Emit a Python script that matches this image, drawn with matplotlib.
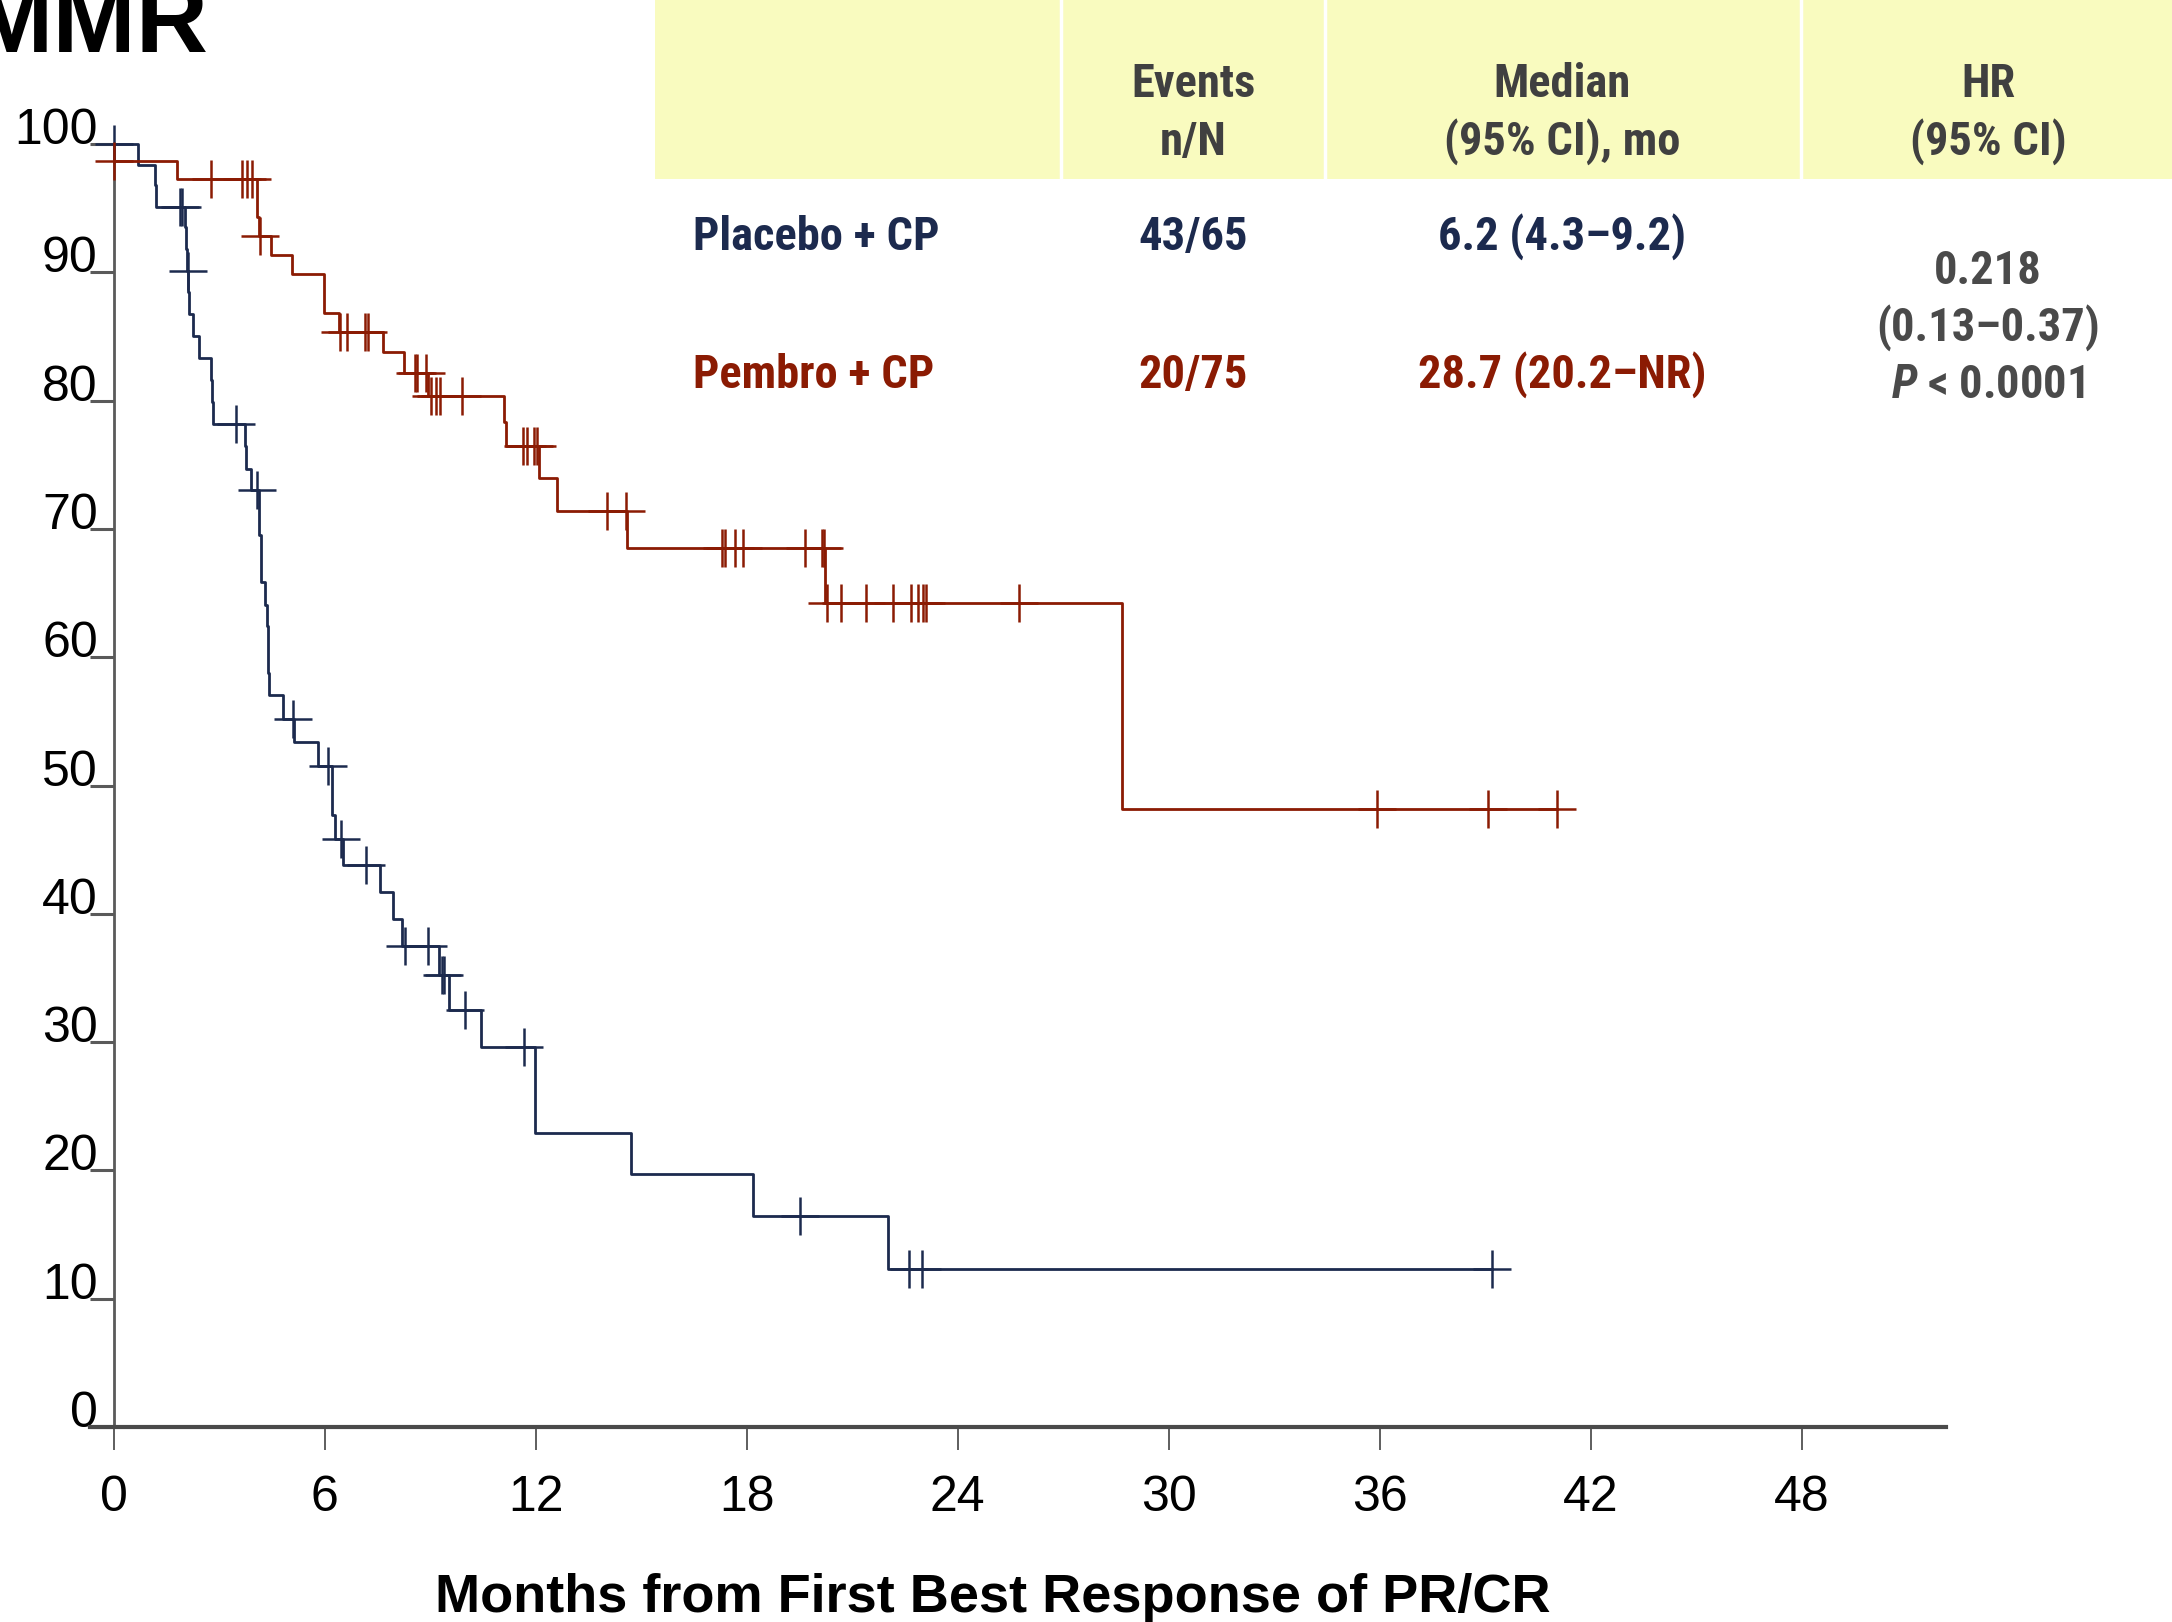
import numpy as np
import matplotlib
matplotlib.use("Agg")
import matplotlib.pyplot as plt
from matplotlib import font_manager

# Dados (tempo em meses, sobrevida em %)
# Placebo + CP: degraus da curva
placebo_t = [0, 0.70, 1.18, 1.22, 2.04, 2.07, 2.09, 2.12, 2.15, 2.25, 2.43, 2.76, 2.81, 2.84,
             3.74, 3.76, 3.90, 4.14, 4.18, 4.30, 4.35, 4.40, 4.43, 4.81, 5.14, 5.82,
             6.20, 6.29, 6.53, 7.57, 7.95, 8.20, 9.26, 9.55, 10.45, 11.98, 14.72, 18.19, 22.01]
placebo_s = [100, 98.4, 96.8, 95.1, 93.5, 91.8, 90.1, 88.5, 86.75, 85.0, 83.35, 81.6, 79.9, 78.2,
             76.5, 74.7, 73.0, 69.5, 65.9, 64.1, 62.4, 58.75, 57.05, 55.2, 53.4, 51.5,
             47.7, 45.8, 43.8, 41.7, 39.6, 37.5, 35.2, 32.5, 29.6, 22.95, 19.7, 16.45, 12.3]
placebo_cens = [0, 1.88, 1.94, 2.105, 3.48, 4.07, 5.11, 6.11, 6.47, 7.18, 8.28, 8.93, 9.34, 9.39,
                9.99, 11.67, 19.53, 22.63, 22.99, 39.19]

# Pembro + CP: degraus da curva
pembro_t = [0, 1.81, 4.07, 4.09, 4.13, 4.49, 5.06, 5.98, 6.42, 7.67, 8.26, 8.95,
            11.10, 11.15, 12.10, 12.62, 14.60, 20.24, 28.67]
pembro_s = [98.67, 97.3, 95.8, 94.3, 92.8, 91.35, 89.9, 86.85, 85.37, 83.76, 82.12, 80.36,
            78.36, 76.46, 73.94, 71.42, 68.5, 64.25, 48.2]
pembro_cens = [0, 2.78, 3.64, 3.78, 3.95, 4.17, 6.45, 6.63, 7.15, 7.22, 8.57, 8.64, 8.88,
               9.03, 9.17, 9.28, 9.92, 11.63, 11.75, 11.94, 12.03, 14.04, 14.57,
               17.29, 17.39, 17.66, 17.90, 19.67, 20.14, 20.19,
               20.29, 20.69, 21.38, 22.16, 22.68, 22.87, 23.01, 23.10, 25.75,
               35.92, 39.09, 41.05]

x_ticks = [0, 6, 12, 18, 24, 30, 36, 42, 48]
y_ticks = [0, 10, 20, 30, 40, 50, 60, 70, 80, 90, 100]

# Tabela do cabeçalho
col_headers = [("Events", "n/N"), ("Median", "(95% CI), mo"), ("HR", "(95% CI)")]
grupos = ["Placebo + CP", "Pembro + CP"]
eventos = ["43/65", "20/75"]
medianas = ["6.2 (4.3\u20139.2)", "28.7 (20.2\u2013NR)"]
hr_linhas = ["0.218", "(0.13\u20130.37)", "$\\it{P}$ < 0.0001"]

cor_placebo = "#1c2a4e"
cor_pembro = "#8b1b03"

# Fontes: procura uma fonte estreita (tipo Arial Narrow) se existir
nomes = {f.name for f in font_manager.fontManager.ttflist}
fonte = "Liberation Sans"
fonte_narrow = fonte
for candidata in ["Liberation Sans Narrow", "Arial Narrow", "Roboto Condensed"]:
    if candidata in nomes:
        fonte_narrow = candidata
        break
tam_tab = 33.5 if fonte_narrow != fonte else 30.5
plt.rcParams["font.family"] = fonte
plt.rcParams["mathtext.fontset"] = "custom"
plt.rcParams["mathtext.it"] = fonte_narrow + ":italic:bold"
plt.rcParams["mathtext.rm"] = fonte_narrow + ":bold"

W, H = 2172, 1622
fig = plt.figure(figsize=(W / 100, H / 100), dpi=100)


def fx(x):
    return x / W


def fy(y):
    return 1 - y / H


# Eixo principal
ax = fig.add_axes([fx(90), fy(1427), fx(1946) - fx(90), fy(144) - fy(1427)])
ax.set_xlim(-0.67, 52.1)
ax.set_ylim(0, 100)


def curva(t, s, cens, cor):
    t_fim = max(cens[-1], t[-1])
    tt = list(t) + [t_fim]
    ss = list(s) + [s[-1]]
    ax.step(tt, ss, where="post", color=cor, lw=2.0, clip_on=False, zorder=3)
    idx = np.searchsorted(np.array(t), np.array(cens), side="right") - 1
    y_cens = np.array(s)[idx]
    ax.plot(cens, y_cens, linestyle="none", marker="+", markersize=28, markeredgewidth=1.8,
            color=cor, clip_on=False, zorder=4)


curva(placebo_t, placebo_s, placebo_cens, cor_placebo)
curva(pembro_t, pembro_s, pembro_cens, cor_pembro)

# Eixos e ticks
for lado in ["top", "right"]:
    ax.spines[lado].set_visible(False)
ax.spines["left"].set_position(("data", 0))
ax.spines["left"].set_color("#5a5a5a")
ax.spines["left"].set_linewidth(2.0)
ax.spines["bottom"].set_color("#4a4a4a")
ax.spines["bottom"].set_linewidth(3.0)

ax.set_xticks(x_ticks)
ax.set_xticklabels([str(v) for v in x_ticks])
ax.set_yticks(y_ticks)
ax.set_yticklabels([str(v) for v in y_ticks])
ax.tick_params(axis="x", direction="out", length=16.5, width=1.1, color="#333333",
               labelsize=36, pad=18, labelcolor="black")
ax.tick_params(axis="y", direction="out", length=17.3, width=2.2, color="#5a5a5a",
               labelsize=36, pad=-6, labelcolor="black")
for lbl in ax.get_yticklabels():
    lbl.set_verticalalignment("baseline")

ax.set_xlabel("Months from First Best Response of PR/CR", fontsize=39, fontweight="bold")
ax.xaxis.label.set_verticalalignment("center")
ax.xaxis.set_label_coords((993 - 90) / (1946 - 90), (1427 - 1598) / 1283)

# Título cortado no canto
fig.text(fx(208), fy(52), "MMR", fontsize=72, fontweight="bold", ha="right", va="baseline",
         color="black")

# Cabeçalho da tabela (fundo amarelo)
fig.patches.append(plt.Rectangle((fx(655), fy(179)), fx(W - 655), fy(0) - fy(179),
                                 transform=fig.transFigure, facecolor="#f9fbbf",
                                 edgecolor="none", zorder=0))
for xs in [1061, 1325, 1801]:
    fig.add_artist(plt.Line2D([fx(xs), fx(xs)], [fy(0), fy(179)], color="white", lw=2.5,
                              transform=fig.transFigure))

col_x = [1193, 1562, 1988]
for cx, (l1, l2) in zip(col_x, col_headers):
    fig.text(fx(cx), fy(84), l1, ha="center", va="center", fontsize=tam_tab,
             fontweight="bold", family=fonte_narrow, color="#404040")
    fig.text(fx(cx), fy(142), l2, ha="center", va="center", fontsize=tam_tab,
             fontweight="bold", family=fonte_narrow, color="#404040")

linhas_y = [237, 375]
cores = [cor_placebo, cor_pembro]
for yy, g, e, m, c in zip(linhas_y, grupos, eventos, medianas, cores):
    fig.text(fx(693), fy(yy), g, ha="left", va="center", fontsize=tam_tab,
             fontweight="bold", family=fonte_narrow, color=c)
    fig.text(fx(col_x[0]), fy(yy), e, ha="center", va="center", fontsize=tam_tab,
             fontweight="bold", family=fonte_narrow, color=c)
    fig.text(fx(col_x[1]), fy(yy), m, ha="center", va="center", fontsize=tam_tab,
             fontweight="bold", family=fonte_narrow, color=c)

for yy, txt in zip([271, 328, 385], hr_linhas):
    fig.text(fx(col_x[2]), fy(yy), txt, ha="center", va="center", fontsize=tam_tab,
             fontweight="bold", family=fonte_narrow, color="#4a4a4a")

fig.savefig("out.png", dpi=100)
